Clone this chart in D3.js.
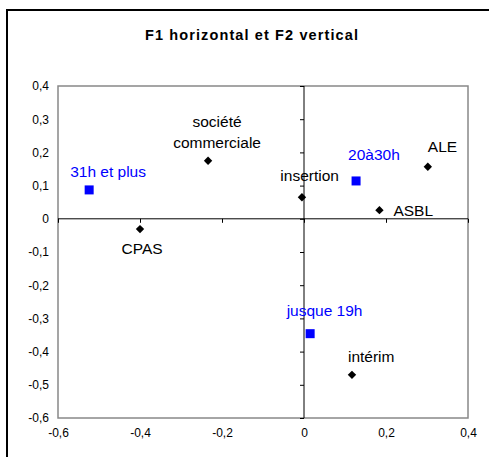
<!DOCTYPE html>
<html>
<head>
<meta charset="utf-8">
<script src="https://cdn.jsdelivr.net/npm/d3@7"></script>
<style>
  html, body { margin: 0; padding: 0; background: #fff; }
  svg { display: block; font-family: "Liberation Sans", Arial, sans-serif; }
</style>
</head>
<body>
<svg id="chart" width="489" height="457"></svg>
<script>
// ---- data ----
const title = "F1 horizontal et F2 vertical";
const varNames = ["CPAS", "société commerciale", "insertion", "ALE", "ASBL", "intérim"];
const varF1 = [-0.400, -0.234, -0.005, 0.302, 0.184, 0.117];
const varF2 = [-0.031, 0.175, 0.065, 0.157, 0.026, -0.470];
const hourNames = ["31h et plus", "20à30h", "jusque 19h"];
const hourF1 = [-0.524, 0.127, 0.015];
const hourF2 = [0.087, 0.114, -0.346];
const xTicks = [-0.6, -0.4, -0.2, 0, 0.2, 0.4];
const yTicks = [0.4, 0.3, 0.2, 0.1, 0, -0.1, -0.2, -0.3, -0.4, -0.5, -0.6];

// ---- label layout (offsets in px from the marker) ----
const labelLayout = {
  "CPAS": {dx: -18.5, dy: 25, anchor: "start"},
  "société commerciale": {dx: 9, dy: -34, anchor: "middle", lines: ["société", "commerciale"], lh: 21.5},
  "insertion": {dx: 37, dy: -16.5, anchor: "end"},
  "ALE": {dx: 0, dy: -14.5, anchor: "start"},
  "ASBL": {dx: 14, dy: 6, anchor: "start"},
  "intérim": {dx: -4, dy: -12.5, anchor: "start"},
  "31h et plus": {dx: -19, dy: -13, anchor: "start"},
  "20à30h": {dx: -8, dy: -21, anchor: "start"},
  "jusque 19h": {dx: -23.5, dy: -17.5, anchor: "start"}
};

const svg = d3.select("#chart");
const fmt = v => (Math.abs(v) < 1e-9 ? "0" : d3.format(".1f")(v).replace(".", ",").replace("−", "-"));

// outer frame
svg.append("rect").attr("x", 7).attr("y", 10).attr("width", 490).attr("height", 460)
  .attr("fill", "#fff").attr("stroke", "#000").attr("stroke-width", 2);

// title
svg.append("text").attr("x", 251.5).attr("y", 39.5).attr("text-anchor", "middle")
  .attr("font-size", 14.5).attr("font-weight", "bold").attr("fill", "#000")
  .attr("textLength", 213).attr("lengthAdjust", "spacing")
  .text(title);

const L = 58, R = 468, T = 86, B = 418;
const x = d3.scaleLinear().domain([-0.6, 0.4]).range([L, R]);
const y = d3.scaleLinear().domain([-0.6, 0.4]).range([B, T]);

// plot area border
svg.append("rect").attr("x", L).attr("y", T).attr("width", R - L).attr("height", B - T)
  .attr("fill", "none").attr("stroke", "#888").attr("stroke-width", 1.5);

// y tick labels
const yAxis = d3.axisLeft(y).tickValues(yTicks).tickSize(0).tickPadding(9).tickFormat(fmt);
const gy = svg.append("g").attr("transform", `translate(${L},0)`).call(yAxis);
gy.select(".domain").remove();
gy.selectAll("text").attr("font-size", 12).attr("fill", "#000")
  .attr("font-family", "Liberation Sans, Arial, sans-serif");

// x tick labels
const xAxis = d3.axisBottom(x).tickValues(xTicks).tickSize(0).tickPadding(10).tickFormat(fmt);
const gx = svg.append("g").attr("transform", `translate(0,${B})`).call(xAxis);
gx.select(".domain").remove();
gx.selectAll("text").attr("font-size", 12).attr("fill", "#000")
  .attr("font-family", "Liberation Sans, Arial, sans-serif");

// zero axes with ticks
const gv = svg.append("g").attr("transform", `translate(${x(0)},0)`)
  .call(d3.axisLeft(y).tickValues(yTicks).tickSize(4).tickFormat(""));
gv.selectAll("path,line").attr("stroke", "#000").attr("stroke-width", 1);
gv.select(".domain").attr("d", `M0,${T}V${B}`);

const gh = svg.append("g").attr("transform", `translate(0,${y(0)})`)
  .call(d3.axisBottom(x).tickValues(xTicks).tickSize(4).tickFormat(""));
gh.selectAll("path,line").attr("stroke", "#000").attr("stroke-width", 1);
gh.select(".domain").attr("d", `M${L},0H${R}`);

// variables: black diamonds
const vars = varNames.map((n, i) => ({name: n, f1: varF1[i], f2: varF2[i]}));
const hours = hourNames.map((n, i) => ({name: n, f1: hourF1[i], f2: hourF2[i]}));

svg.append("g").selectAll("path").data(vars).join("path")
  .attr("transform", d => `translate(${x(d.f1)},${y(d.f2)})`)
  .attr("d", d3.symbol(d3.symbolDiamond2, 45)())
  .attr("fill", "#000");

svg.append("g").selectAll("rect").data(hours).join("rect")
  .attr("x", d => x(d.f1) - 4.5).attr("y", d => y(d.f2) - 4.5)
  .attr("width", 9).attr("height", 9).attr("fill", "#0000ff");

function addLabels(data, color) {
  data.forEach(d => {
    const lay = labelLayout[d.name];
    const t = svg.append("text")
      .attr("x", x(d.f1) + lay.dx).attr("y", y(d.f2) + lay.dy)
      .attr("text-anchor", lay.anchor).attr("font-size", 15.5).attr("fill", color);
    if (lay.lines) {
      lay.lines.forEach((ln, k) => {
        t.append("tspan").attr("x", x(d.f1) + lay.dx).attr("dy", k === 0 ? 0 : lay.lh).text(ln);
      });
    } else {
      t.text(d.name);
    }
  });
}
addLabels(vars, "#000");
addLabels(hours, "#0000ff");
</script>
</body>
</html>
